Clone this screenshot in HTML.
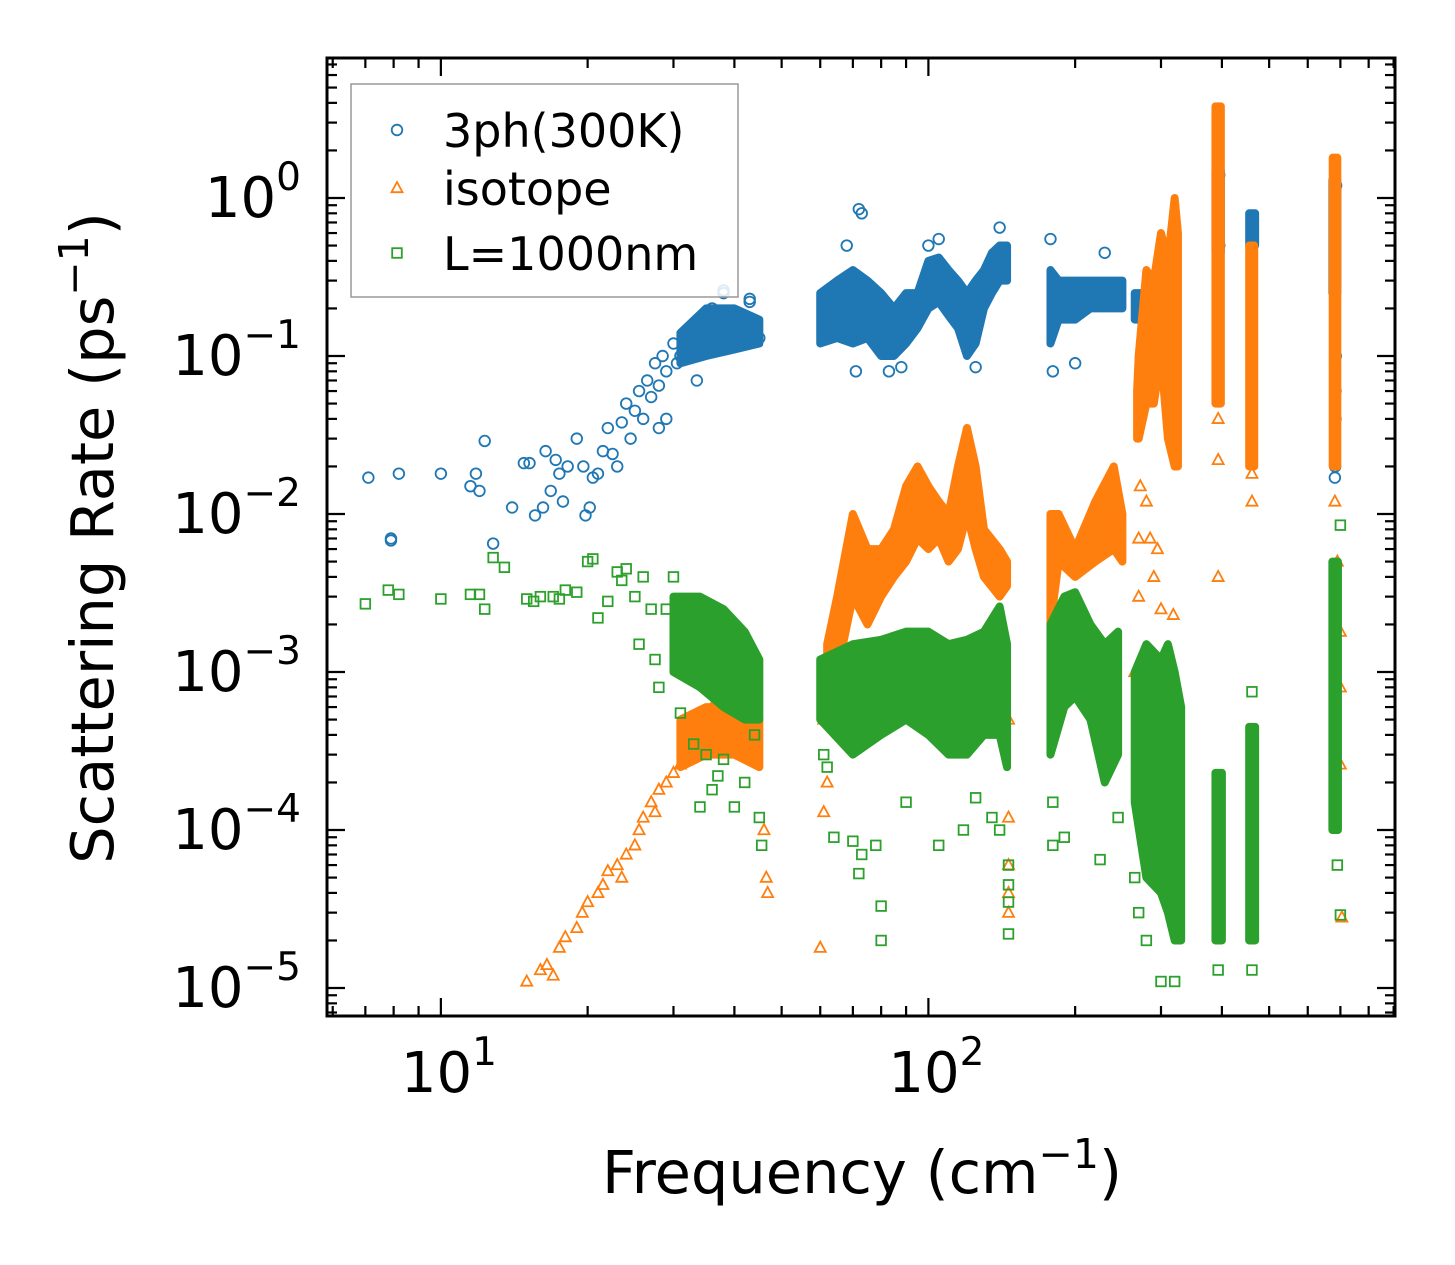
<!DOCTYPE html>
<html><head><meta charset="utf-8"><style>
html,body{margin:0;padding:0;background:#fff;}
svg{display:block;font-family:"DejaVu Sans","Liberation Sans",sans-serif;}
</style></head><body>
<svg id="chart" width="1455" height="1265" viewBox="0 0 1455 1265">
<g id="series"></g>
<g id="axes"></g>
</svg>
<script>
// ---------- data ----------
const blueF=[7.1,7.9,7.9,8.2,10,11.5,11.8,12,12.3,12.8,14,14.8,15.2,15.6,16.2,16.4,16.8,17.2,17.5,17.8,18.2,19,19.6,19.8,20.2,20.5,21,21.5,22,22.5,23,23.5,24,24.5,25,25.5,26,26.5,27,27.5,28,28.5,29,30,31,32,33,34,35,36,37,38,39,40,41,42,43,44,45,28,29,30.5,33.5,72,73,71,83,88,125,180,178,200,230,140,105,68,100,38,43,682,683,684,684,685,395,395,686];
const blueR=[0.017,0.0068,0.007,0.018,0.018,0.015,0.018,0.014,0.029,0.0065,0.011,0.021,0.021,0.0098,0.011,0.025,0.014,0.022,0.018,0.012,0.02,0.03,0.02,0.0098,0.011,0.017,0.018,0.025,0.035,0.024,0.02,0.038,0.05,0.03,0.045,0.06,0.04,0.07,0.055,0.09,0.065,0.1,0.08,0.12,0.1,0.14,0.11,0.16,0.13,0.2,0.15,0.25,0.14,0.18,0.12,0.16,0.22,0.13,0.13,0.035,0.04,0.09,0.07,0.85,0.8,0.08,0.08,0.085,0.085,0.08,0.55,0.09,0.45,0.65,0.55,0.5,0.5,0.26,0.23,0.017,0.02,0.04,0.06,0.1,1.4,0.5,1.2];
const blueBandF=[[31,35,40,45],[60,65,70,75,80,85,90,95,100,105,110,115,120,125,130,135,140,145],[178,185,200,215,230,250],[265,280,300,320],[388,398],[455,468],[674,690]];
const blueBandLo=[[0.09,0.1,0.11,0.12],[0.12,0.13,0.12,0.13,0.1,0.1,0.12,0.15,0.2,0.22,0.18,0.15,0.1,0.12,0.2,0.25,0.3,0.3],[0.12,0.17,0.17,0.2,0.2,0.2],[0.17,0.17,0.18,0.2],[0.45,0.45],[0.5,0.5],[0.25,0.25]];
const blueBandHi=[[0.14,0.2,0.2,0.17],[0.25,0.3,0.35,0.3,0.25,0.2,0.25,0.25,0.4,0.42,0.35,0.3,0.25,0.3,0.35,0.45,0.5,0.5],[0.35,0.3,0.3,0.3,0.3,0.3],[0.25,0.25,0.3,0.35],[1.5,1.5],[0.8,0.8],[1.3,1.3]];

const orangeF=[15,16,16.5,17,17.5,18,19,19.5,20,21,21.5,22,23,23.5,24,25,25.5,26,27,27.5,28,29,30,31,32,33,34,35,36,37,38,40,42,44,46,46.5,46.8,44,41,60,61,61,62,65,146,146,146,146,146,265,270,272,280,285,290,295,300,318,270,393,393,393,393,700,700,700,705,690,461,461,682];
const orangeR=[1.1e-5,1.3e-5,1.4e-5,1.2e-5,1.8e-5,2.1e-5,2.4e-5,3e-5,3.5e-5,4e-5,4.5e-5,5.5e-5,6e-5,5e-5,7e-5,8e-5,1e-4,1.2e-4,1.5e-4,1.3e-4,1.8e-4,2e-4,2.3e-4,2.6e-4,3e-4,3.5e-4,4.5e-4,5e-4,6e-4,5e-4,4e-4,3.5e-4,3e-4,4e-4,1e-4,5e-5,4e-5,7e-4,6e-4,1.8e-5,1.3e-4,5e-4,2e-4,7e-4,5e-4,1.2e-4,6e-5,4e-5,3e-5,1e-3,7e-3,1.5e-2,1.2e-2,7e-3,4e-3,6e-3,2.5e-3,2.3e-3,3e-3,4e-3,0.022,0.04,0.08,1.8e-3,8e-4,2.6e-4,2.8e-5,5e-3,0.012,0.018,0.012];
const orangeBandF=[[31,35,40,45],[62,65,70,75,80,85,90,95,100,105,110,115,120,125,130,140,145],[178,185,200,220,240,250],[268,270,280,290,300,310,320,325],[388,398],[455,466],[675,690]];
const orangeBandLo=[[2.5e-4,3e-4,3e-4,2.5e-4],[8e-4,1e-3,3e-3,2e-3,3e-3,4e-3,5e-3,7e-3,6e-3,7e-3,5e-3,6e-3,1e-2,6e-3,4e-3,3e-3,3.5e-3],[2e-3,5e-3,4e-3,5e-3,6e-3,5e-3],[0.03,0.03,0.05,0.05,0.1,0.03,0.02,0.02],[0.05,0.05],[0.02,0.02],[0.02,0.02]];
const orangeBandHi=[[5e-4,6e-4,6e-4,5e-4],[1.5e-3,3e-3,1e-2,6e-3,6e-3,8e-3,1.5e-2,2e-2,1.5e-2,1.2e-2,1e-2,2e-2,3.5e-2,2e-2,8e-3,6e-3,5e-3],[1e-2,1e-2,6e-3,1.2e-2,2e-2,1e-2],[0.06,0.1,0.35,0.3,0.6,0.4,1.0,0.6],[3.8,3.8],[0.5,0.5],[1.8,1.8]];

const greenF=[7,7.8,8.2,10,11.5,12,12.3,12.8,13.5,15,15.5,16,17,17.5,18,19,20,20.5,21,22,23,23.5,24,25,25.5,26,27,27.5,28,29,30,31,32,33,34,35,38,40,42,44,45,45.5,36,37,61,62,64,70,72,73,80,80,78,90,105,118,125,135,140,146,146,146,146,180,180,190,225,245,265,270,280,300,320,393,461,461,700,700,690];
const greenR=[2.7e-3,3.3e-3,3.1e-3,2.9e-3,3.1e-3,3.1e-3,2.5e-3,5.3e-3,4.6e-3,2.9e-3,2.8e-3,3e-3,3e-3,2.9e-3,3.3e-3,3.2e-3,5e-3,5.2e-3,2.2e-3,2.8e-3,4.3e-3,3.8e-3,4.5e-3,3e-3,1.5e-3,4e-3,2.5e-3,1.2e-3,8e-4,2.5e-3,4e-3,5.5e-4,1.5e-3,3.5e-4,1.4e-4,3e-4,2.8e-4,1.4e-4,2e-4,4e-4,1.2e-4,8e-5,1.8e-4,2.2e-4,3e-4,2.5e-4,9e-5,8.5e-5,5.3e-5,7e-5,3.3e-5,2e-5,8e-5,1.5e-4,8e-5,1e-4,1.6e-4,1.2e-4,1e-4,6e-5,4.5e-5,3.5e-5,2.2e-5,8e-5,1.5e-4,9e-5,6.5e-5,1.2e-4,5e-5,3e-5,2e-5,1.1e-5,1.1e-5,1.3e-5,1.3e-5,7.5e-4,8.5e-3,2.9e-5,6e-5];
const greenBandF=[[30,34,38,42,45],[60,70,80,90,100,110,120,130,140,145],[178,190,200,215,230,245],[265,280,300,310,320,330],[388,400],[455,468],[674,692]];
const greenBandLo=[[1e-3,8e-4,6e-4,5e-4,5e-4],[5e-4,3e-4,4e-4,5e-4,4e-4,3e-4,3e-4,4e-4,4e-4,2.5e-4],[3e-4,6e-4,7e-4,5e-4,2e-4,3e-4],[1.5e-4,5e-5,4e-5,3e-5,2e-5,2e-5],[2e-5,2e-5],[2e-5,2e-5],[1e-4,1e-4]];
const greenBandHi=[[3e-3,3e-3,2.5e-3,1.8e-3,1.2e-3],[1.2e-3,1.5e-3,1.6e-3,1.8e-3,1.8e-3,1.5e-3,1.6e-3,1.8e-3,2.6e-3,1.5e-3],[2e-3,3e-3,3.2e-3,2e-3,1.5e-3,1.8e-3],[1e-3,1.5e-3,1.2e-3,1.5e-3,1e-3,6e-4],[2.3e-4,2.3e-4],[4.5e-4,4.5e-4],[5e-3,5e-3]];

const xTickVals=[10,100];
const xTickLabels=["1","2"];
const yTickVals=[1,0.1,0.01,0.001,1e-4,1e-5];
const yTickLabels=["0","\u22121","\u22122","\u22123","\u22124","\u22125"];

// ---------- axes functions ----------
const L=327,R=1395,T=58,B=1016;
const xmin=Math.log10(5.84),xmax=Math.log10(906);
const ymin=-5.177,ymax=0.886;
const X=f=>L+(Math.log10(f)-xmin)/(xmax-xmin)*(R-L);
const Y=v=>B-(Math.log10(v)-ymin)/(ymax-ymin)*(B-T);
const NS="http://www.w3.org/2000/svg";
function mk(tag,attrs,parent){const e=document.createElementNS(NS,tag);for(const k in attrs)e.setAttribute(k,attrs[k]);parent.appendChild(e);return e;}
const S=document.getElementById('series'),A=document.getElementById('axes');
const C={blue:'#1f77b4',orange:'#ff7f0e',green:'#2ca02c'};

function bands(F,Lo,Hi,col,name){
  F.forEach((fs,i)=>{
    let pts=fs.map((f,j)=>X(f)+','+Y(Hi[i][j]));
    for(let j=fs.length-1;j>=0;j--)pts.push(X(fs[j])+','+Y(Lo[i][j]));
    const p=mk('polygon',{points:pts.join(' '),fill:col,stroke:col,'stroke-width':8,'stroke-linejoin':'round'},S);
    
    
  });
}
function marker(x,y,kind,col,parent){
  let e;
  if(kind==='o')e=mk('circle',{cx:x,cy:y,r:5.3,fill:'none',stroke:col,'stroke-width':1.8},parent);
  else if(kind==='^')e=mk('polygon',{points:`${x},${y-6} ${x-5.5},${y+4.2} ${x+5.5},${y+4.2}`,fill:'none',stroke:col,'stroke-width':1.8},parent);
  else e=mk('rect',{x:x-4.8,y:y-4.8,width:9.6,height:9.6,fill:'none',stroke:col,'stroke-width':1.8},parent);
  return e;
}
function scatter(F,Rr,kind,col,name){
  F.forEach((f,i)=>{
    const e=marker(X(f),Y(Rr[i]),kind,col,S);
    
    
  });
}
bands(blueBandF,blueBandLo,blueBandHi,C.blue,'3ph');
scatter(blueF,blueR,'o',C.blue,'3ph');
bands(orangeBandF,orangeBandLo,orangeBandHi,C.orange,'isotope');
scatter(orangeF,orangeR,'^',C.orange,'isotope');
bands(greenBandF,greenBandLo,greenBandHi,C.green,'boundary');
scatter(greenF,greenR,'s',C.green,'boundary');

// frame
const fr=mk('rect',{x:L,y:T,width:R-L,height:B-T,fill:'none',stroke:'#000','stroke-width':3},A);



// ticks
function tick(x1,y1,x2,y2){mk('line',{x1,y1,x2,y2,stroke:'#000','stroke-width':2.2},A);}
for(let k=0;k<=2;k++)for(let m=1;m<=9;m++){
  const f=m*Math.pow(10,k);const lx=Math.log10(f);
  if(lx<xmin||lx>xmax)continue;
  const x=X(f),len=m===1?18:10;
  tick(x,B,x,B-len);tick(x,T,x,T+len);
}
for(let k=-6;k<=0;k++)for(let m=1;m<=9;m++){
  const v=m*Math.pow(10,k);const ly=Math.log10(v);
  if(ly<ymin||ly>ymax)continue;
  const y=Y(v),len=m===1?18:10;
  tick(L,y,L+len,y);tick(R,y,R-len,y);
}
xTickVals.forEach((v,i)=>{
  const t=mk('text',{x:X(v)+8,y:1092,'text-anchor':'middle','font-size':56},A);
  t.innerHTML='10<tspan dy="-27" font-size="39">'+xTickLabels[i]+'</tspan>';
  
  
});
yTickVals.forEach((v,i)=>{
  const t=mk('text',{x:301,y:Y(v)+19,'text-anchor':'end','font-size':56},A);
  t.innerHTML='10<tspan dy="-27" font-size="39">'+yTickLabels[i]+'</tspan>';
  
  
});
const xt=mk('text',{x:862,y:1193,'text-anchor':'middle','font-size':59},A);
xt.innerHTML='Frequency (cm<tspan dy="-25" font-size="41">\u22121</tspan><tspan dy="25">)</tspan>';


const yt=mk('text',{x:0,y:0,'text-anchor':'middle','font-size':59,transform:'translate(113,538) rotate(-90)'},A);
yt.innerHTML='Scattering Rate (ps<tspan dy="-25" font-size="41">\u22121</tspan><tspan dy="25">)</tspan>';



// legend
const lg=mk('g',{},A);


mk('rect',{x:351,y:84,width:387,height:213,fill:'#fff','fill-opacity':0.85,stroke:'#999','stroke-width':1.5},lg);
const legNames=['3ph(300K)','isotope','L=1000nm'],legKinds=['o','^','s'],legCols=[C.blue,C.orange,C.green],legY=[130,188,253];
legNames.forEach((n,i)=>{
  const g=mk('g',{},lg);
  
  
  marker(397,legY[i],legKinds[i],legCols[i],g);
  const t=mk('text',{x:443,y:legY[i]+17,'font-size':46},g);
  t.textContent=n;
});
</script>
</body></html>
